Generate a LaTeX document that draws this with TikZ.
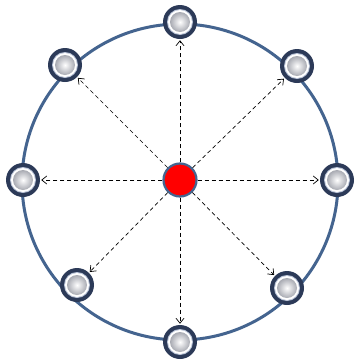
\documentclass[tikz,border=0pt]{standalone}
\usetikzlibrary{arrows.meta,backgrounds}
\definecolor{ringblue}{HTML}{44648F}
\definecolor{navy}{HTML}{2C3A58}
\definecolor{ballgray}{HTML}{A8AAB2}
\definecolor{halo}{HTML}{B8C2D6}
\tikzset{
  sat/.style={circle, minimum size=34pt, inner sep=0pt, fill=navy,
    path picture={
      \fill[halo] (path picture bounding box.center) circle (13pt);
      \fill[white] (path picture bounding box.center) circle (12pt);
      \shade[inner color=white, outer color=ballgray] (path picture bounding box.center) circle (10pt);
    }},
  hub/.style={circle, minimum size=33pt, inner sep=0pt, fill=red, draw=ringblue, line width=2.2pt},
  arr/.style={dash pattern=on 4pt off 3pt, line width=0.7pt, -{Straight Barb[length=5pt,width=8pt]}, shorten >=1pt},
  orbit/.style={draw=ringblue, line width=3pt}
}
\begin{document}
\begin{tikzpicture}[x=1pt,y=-1pt]
\useasboundingbox (0,0) rectangle (358,362);
\node[hub] (c) at (180,180) {};
\foreach \n/\x/\y in {t/180/22, tr/297/66, r/337/180, br/287/288, b/180/342, bl/77/285, l/23/180, tl/65/65} {
  \node[sat] (\n) at (\x,\y) {};
}
\foreach \n in {t,tr,r,br,b,bl,l,tl} {
  \draw[arr] (c) -- (\n);
}
\begin{scope}[on background layer]
  \draw[orbit] (180,182) circle (158pt);
\end{scope}
\end{tikzpicture}
\end{document}
